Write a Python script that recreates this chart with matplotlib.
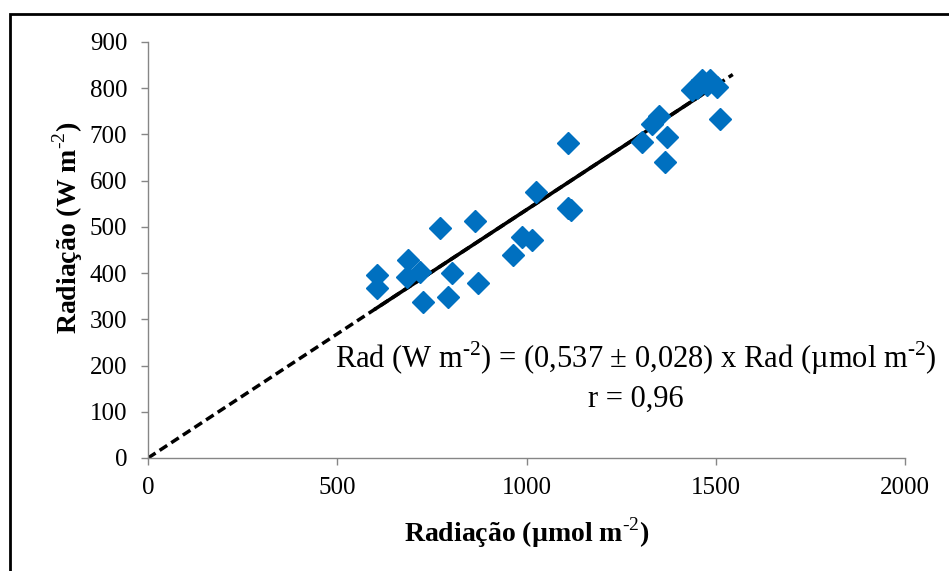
import matplotlib
matplotlib.use("Agg")
import matplotlib.pyplot as plt
from matplotlib.patches import Rectangle
import numpy as np

# Data
rad_umol = [605, 605, 687, 684, 719, 727, 771, 793, 803, 864, 872, 964, 988, 1015,
            1025, 1110, 1110, 1118, 1305, 1332, 1350, 1371, 1366, 1511, 1503,
            1437, 1450, 1464, 1477, 1485]
rad_w = [396, 368, 428, 392, 402, 338, 498, 348, 400, 513, 379, 439, 478, 472,
         575, 682, 541, 537, 684, 723, 740, 694, 640, 733, 803,
         796, 800, 818, 807, 818]

slope = 0.537
fit_solid_range = [598, 1478]
fit_dash_range = [0, 1545]

x_ticks = [0, 500, 1000, 1500, 2000]
y_ticks = [0, 100, 200, 300, 400, 500, 600, 700, 800, 900]

plt.rcParams['font.family'] = ['Liberation Serif', 'DejaVu Serif']
plt.rcParams['mathtext.fontset'] = 'custom'
plt.rcParams['mathtext.rm'] = 'Liberation Serif'
plt.rcParams['mathtext.bf'] = 'Liberation Serif:bold'

W, H = 949, 571
fig = plt.figure(figsize=(W / 100, H / 100), dpi=100)
ax = fig.add_axes([148 / W, 1 - 458 / H, (905 - 148) / W, (458 - 42) / H])

xd = np.array(fit_dash_range, dtype=float)
ax.plot(xd, slope * xd, color='black', lw=2.5, ls=(0, (2.6, 1.4)), zorder=2)
xs = np.array(fit_solid_range, dtype=float)
ax.plot(xs, slope * xs, color='black', lw=2.6, solid_capstyle='butt', zorder=3)

ax.plot(rad_umol, rad_w, ls='none', marker='D', ms=11, color='#0070C0',
        mec='#0070C0', zorder=4, clip_on=False)

ax.set_xlim(0, 2000)
ax.set_ylim(0, 900)
ax.set_xticks(x_ticks)
ax.set_yticks(y_ticks)
ax.set_xticklabels([str(v) for v in x_ticks])
ax.set_yticklabels([str(v) for v in y_ticks])

for s in ['top', 'right']:
    ax.spines[s].set_visible(False)
for s in ['left', 'bottom']:
    ax.spines[s].set_color('#868686')
    ax.spines[s].set_linewidth(1.0)
ax.tick_params(axis='both', direction='out', length=5, color='#868686',
               labelsize=18, width=1.0)
ax.tick_params(axis='x', pad=9)
ax.tick_params(axis='y', pad=10)

ax.set_xlabel(r'Radiação (µmol m$^{\mathbf{\text{-2}}}$)', fontsize=20, fontweight='bold')
ax.xaxis.label.set_va('center')
ax.xaxis.set_label_coords(0.5, (458 - 533) / 416)
ax.set_ylabel(r'Radiação (W m$^{\mathbf{\text{-2}}}$)', fontsize=20, fontweight='bold')
ax.yaxis.label.set_va('center')
ax.yaxis.set_label_coords((68 - 148) / 757, (458 - 228) / 416)

ax.text(1289, 216, r'Rad (W m$^{\text{-2}}$) = (0,537 ± 0,028) x Rad (µmol m$^{\text{-2}}$)',
        fontsize=22, ha='center', va='center', clip_on=False)
ax.text(1289, 128, 'r = 0,96', fontsize=22, ha='center', va='center')

fig.add_artist(Rectangle((10 / W, -0.1), 1.2, 1 - 14 / H + 0.1,
                         transform=fig.transFigure, fill=False, lw=2,
                         ec='black'))

fig.savefig('out.png', dpi=100)
